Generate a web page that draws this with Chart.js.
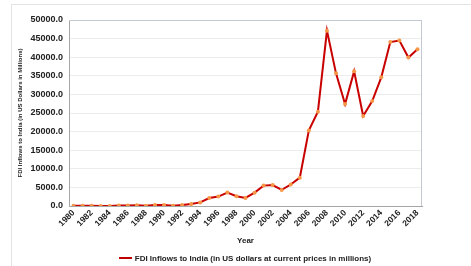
<!DOCTYPE html>
<html>
<head>
<meta charset="utf-8">
<script src="https://cdn.jsdelivr.net/npm/chart.js@4"></script>
<style>
  html, body { margin: 0; padding: 0; background: #fff; }
  #wrap { position: relative; width: 471px; height: 266px; }
  #legend {
    position: absolute; left: 0; width: 490px; top: 254px;
    text-align: center; white-space: nowrap;
    font: bold 8px 'Liberation Sans', Arial, sans-serif; color: #222;
  }
  #legend .sw {
    display: inline-block; width: 13px; height: 2px; background: #c00000;
    vertical-align: middle; margin-right: 3px; position: relative; top: -1px;
  }
</style>
</head>
<body>
<div id="wrap">
  <canvas id="fdiChart" width="471" height="266"></canvas>
  <div id="legend"><span class="sw"></span><span id="legendText"></span></div>
</div>
<script>
// FDI inflows to India, 1980-2018 (US$ millions)
const years = [];
for (let y = 1980; y <= 2018; y++) years.push(String(y));
const fdiValues = [79, 92, 72, 6, 19, 106, 118, 212, 91, 252,
                   237, 75, 252, 532, 974, 2151, 2525, 3619, 2633, 2168,
                   3588, 5478, 5630, 4321, 5778, 7622, 20328, 25350, 47139, 35657,
                   27417, 36190, 24196, 28199, 34582, 44064, 44481, 39904, 42156];
const yTicks = [0, 5000, 10000, 15000, 20000, 25000, 30000, 35000, 40000, 45000, 50000];
const seriesName = 'FDI Inflows to India (in US dollars at current prices in millions)';

const FONT = 'Liberation Sans, Arial, sans-serif';

// outer frame + plot border like the spreadsheet export
const framePlugin = {
    id: 'frame',
    beforeDraw(chart) {
        const c = chart.ctx;
        c.save();
        c.strokeStyle = '#e4e4e4';
        c.lineWidth = 1;
        c.strokeRect(11.5, 4.5, 480, 280);
        c.restore();
    },
    beforeDatasetsDraw(chart) {
        const a = chart.chartArea, c = chart.ctx;
        c.save();
        c.strokeStyle = '#c4c8d0';
        c.lineWidth = 1;
        c.beginPath();
        c.moveTo(a.left, a.top + 0.5); c.lineTo(a.right, a.top + 0.5);
        c.moveTo(a.right - 0.5, a.top); c.lineTo(a.right - 0.5, a.bottom);
        c.stroke();
        c.restore();
    }
};

document.getElementById('legendText').textContent = seriesName;

new Chart(document.getElementById('fdiChart'), {
    type: 'line',
    data: {
        labels: years,
        datasets: [{
            label: seriesName,
            data: fdiValues,
            borderColor: '#c80000',
            backgroundColor: '#c80000',
            borderWidth: 2,
            pointRadius: 2,
            pointBackgroundColor: '#f79646',
            pointBorderColor: '#f79646',
            pointBorderWidth: 0,
            tension: 0
        }]
    },
    options: {
        responsive: false,
        animation: false,
        layout: { padding: { left: 11, right: 49, top: 20, bottom: 18 } },
        plugins: {
            legend: { display: false },
            tooltip: { enabled: false }
        },
        scales: {
            x: {
                offset: true,
                grid: { display: false, drawTicks: false },
                border: { color: '#a6a6a6' },
                ticks: {
                    color: '#222',
                    font: { family: FONT, size: 8.5, weight: 'bold' },
                    maxRotation: 45,
                    minRotation: 45,
                    autoSkip: false,
                    padding: 2,
                    callback: (v, i) => (i % 2 === 0 ? years[i] : '')
                },
                title: {
                    display: true,
                    text: 'Year',
                    color: '#222',
                    font: { family: FONT, size: 8, weight: 'bold' },
                    padding: { top: 2, bottom: 2 }
                },
                afterFit(s) { s.height = 42; }
            },
            y: {
                min: 0,
                max: 50000,
                afterBuildTicks(s) { s.ticks = yTicks.map(v => ({ value: v })); },
                grid: { color: '#ececec', drawTicks: false },
                border: { color: '#a6a6a6' },
                ticks: {
                    color: '#222',
                    font: { family: FONT, size: 9, weight: 'bold' },
                    padding: 6,
                    callback: v => v.toFixed(1)
                },
                title: {
                    display: true,
                    text: 'FDI Inflows to India (in US Dollars in Millions)',
                    color: '#222',
                    font: { family: FONT, size: 6, weight: 'bold' },
                    padding: { top: 6, bottom: 0 }
                },
                afterFit(s) { s.width = 58; }
            }
        }
    },
    plugins: [framePlugin]
});
</script>
</body>
</html>
